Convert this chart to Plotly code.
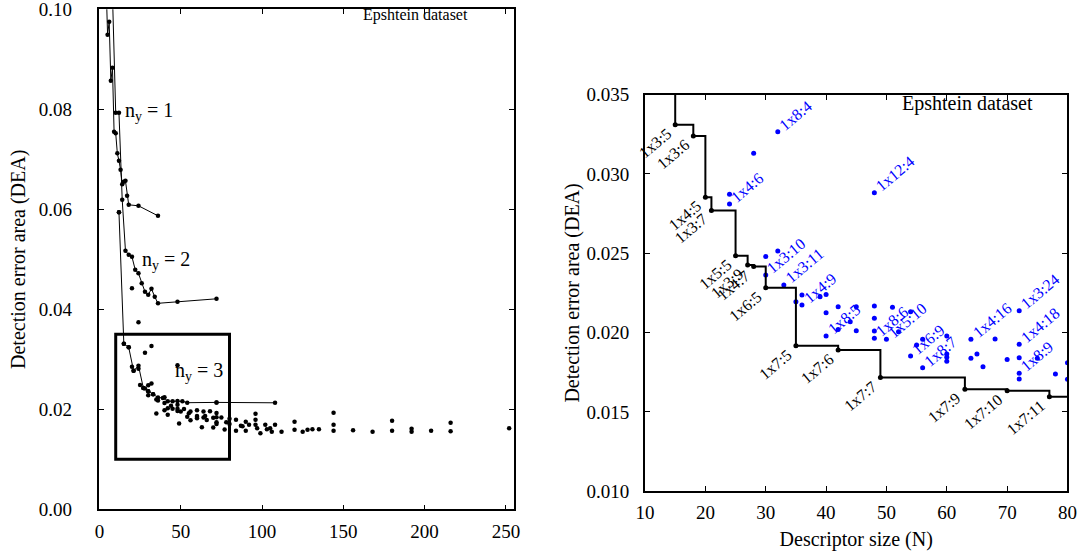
import plotly.graph_objects as go

# Detection error area (DEA) versus descriptor size N for the tested
# configurations (labels read n_x x n_y : bins, N = n_x * n_y * bins).

# n_y = 1 family
ny1_n = [4, 5, 6, 7, 8, 9, 10, 11, 12, 13, 14, 15, 16, 17, 18, 24, 36]
ny1_dea = [0.106, 0.0949, 0.0975, 0.0857, 0.0883, 0.0755, 0.0752, 0.0712, 0.0697,
           0.0679, 0.0650, 0.0655, 0.0657, 0.0627, 0.0609, 0.0607, 0.0587]

# n_y = 2 family
ny2_n = [8, 10, 12, 14, 16, 18, 20, 22, 24, 26, 28, 30, 32, 34, 36, 48, 72]
ny2_dea = [0.103, 0.0793, 0.0793, 0.0619, 0.0517, 0.0509, 0.0505, 0.0479, 0.0472,
           0.0452, 0.0435, 0.0429, 0.0441, 0.0425, 0.0412, 0.0415, 0.0421]

# n_y = 3 family
ny3_n = [12, 15, 18, 21, 24, 27, 30, 33, 36, 39, 42, 45, 48, 51, 54, 72, 108]
ny3_dea = [0.0594, 0.0331, 0.0324, 0.0277, 0.02872, 0.02426, 0.02363, 0.0230, 0.02237,
           0.02226, 0.02163, 0.02163, 0.02168, 0.0216, 0.02132, 0.02138, 0.0213]

# Pareto front (best DEA for a given size)
front_lbl = ["1x3:4", "1x3:5", "1x3:6", "1x4:5", "1x3:7", "1x5:5", "1x3:9", "1x4:7",
             "1x6:5", "1x7:5", "1x7:6", "1x7:7", "1x7:9", "1x7:10", "1x7:11", ""]
front_n = [12, 15, 18, 20, 21, 25, 27, 28, 30, 35, 42, 49, 63, 70, 77, 84]
front_dea = [0.0594, 0.0331, 0.0324, 0.02853, 0.0277, 0.02485, 0.02426, 0.02416,
             0.02283, 0.01917, 0.0189, 0.01716, 0.01643, 0.01634, 0.01596, 0.0157]

# other named configurations
named_lbl = ["1x8:4", "1x4:6", "1x12:4", "1x3:10", "1x3:11", "1x4:9", "1x8:5", "1x8:6",
             "1x5:10", "1x6:9", "1x8:7", "1x4:16", "1x3:24", "1x4:18", "1x8:9"]
named_n = [32, 24, 48, 30, 33, 36, 40, 48, 50, 54, 56, 64, 72, 72, 72]
named_dea = [0.03267, 0.0281, 0.02882, 0.02363, 0.0230, 0.02174, 0.01979, 0.01964,
             0.01958, 0.01853, 0.01779, 0.01958, 0.02138, 0.01926, 0.01743]

# remaining configurations
other_n = [20, 24, 28, 30, 32, 35, 40, 40, 42, 44, 45, 48, 48, 52, 55, 56, 60, 60, 60,
           60, 64, 65, 66, 68, 70, 72, 72, 75, 78, 80, 80,
           84, 87, 88, 90, 90, 92, 96, 96, 96, 97, 99, 102, 103, 105, 106, 108, 112,
           120, 120, 125, 128, 131, 135, 144, 144, 144, 156, 168, 180, 180, 192, 192,
           204, 216, 216, 252]
other_dea = [0.0442, 0.0374, 0.0313, 0.0248, 0.02515, 0.02195, 0.0224, 0.02125, 0.0202,
             0.02069, 0.02012, 0.0209, 0.0201, 0.02006, 0.01922, 0.01958, 0.01979,
             0.01865, 0.01844, 0.01819, 0.01838, 0.01865, 0.01785, 0.0196, 0.01831,
             0.01842, 0.01707, 0.01838, 0.01739, 0.0181, 0.01706,
             0.0179, 0.0167, 0.0166, 0.0175, 0.0157, 0.0169, 0.0191, 0.0179, 0.0169,
             0.0162, 0.0152, 0.0169, 0.0160, 0.0162, 0.0155, 0.0169, 0.0155, 0.0175,
             0.0159, 0.0155, 0.0159, 0.0160, 0.0160, 0.0193, 0.0169, 0.0157, 0.0158,
             0.0155, 0.0177, 0.0157, 0.0161, 0.0155, 0.0157, 0.0173, 0.0156, 0.0162]

left_xticks = [0, 50, 100, 150, 200, 250]
left_yticks = [0.00, 0.02, 0.04, 0.06, 0.08, 0.10]
right_xticks = [10, 20, 30, 40, 50, 60, 70, 80]
right_yticks = [0.010, 0.015, 0.020, 0.025, 0.030, 0.035]

FONT = "Liberation Serif"
BLUE = "#0000ff"

all_n = ny1_n + ny2_n + ny3_n + front_n + named_n + other_n
all_dea = ny1_dea + ny2_dea + ny3_dea + front_dea + named_dea + other_dea
front_set = set(zip(front_n, front_dea))
blue_pts = sorted({p for p in zip(all_n, all_dea) if p not in front_set})

fig = go.Figure()

# ---- left panel: all configurations
for xs, ys in [(ny1_n, ny1_dea), (ny2_n, ny2_dea), (ny3_n, ny3_dea)]:
    fig.add_trace(go.Scatter(x=xs, y=ys, mode="lines", line=dict(color="black", width=1),
                             xaxis="x", yaxis="y", hoverinfo="skip"))
fig.add_trace(go.Scatter(x=all_n, y=all_dea, mode="markers",
                         marker=dict(color="black", size=4.5), xaxis="x", yaxis="y"))

# ---- right panel: close-up with Pareto front
fig.add_trace(go.Scatter(x=[p[0] for p in blue_pts], y=[p[1] for p in blue_pts],
                         mode="markers", marker=dict(color=BLUE, size=5),
                         xaxis="x2", yaxis="y2"))
fig.add_trace(go.Scatter(x=front_n, y=front_dea, mode="lines+markers",
                         line=dict(color="black", width=2, shape="hv"),
                         marker=dict(color="black", size=5), xaxis="x2", yaxis="y2"))

LBL = 16
ANG = -40
ann = []
for lbl, xv, yv in zip(front_lbl, front_n, front_dea):
    if lbl and 10 <= xv <= 80 and 0.010 <= yv <= 0.035:
        ann.append(dict(x=xv, y=yv, xref="x2", yref="y2", text=lbl, showarrow=False,
                        textangle=ANG, xanchor="right", yanchor="top", xshift=0,
                        yshift=1, borderpad=0,
                        font=dict(family=FONT, size=LBL, color="black")))
for lbl, xv, yv in zip(named_lbl, named_n, named_dea):
    ann.append(dict(x=xv, y=yv, xref="x2", yref="y2", text=lbl, showarrow=False,
                    textangle=ANG, xanchor="left", yanchor="bottom", xshift=-3,
                    yshift=-3, borderpad=0,
                    font=dict(family=FONT, size=LBL, color=BLUE)))

ann += [
    dict(x=0.894, y=0.989, xref="x domain", yref="y domain", text="Epshtein dataset",
         showarrow=False, xanchor="right", yanchor="middle",
         font=dict(family=FONT, size=16, color="black")),
    dict(x=0.923, y=0.979, xref="x2 domain", yref="y2 domain", text="Epshtein dataset",
         showarrow=False, xanchor="right", yanchor="middle",
         font=dict(family=FONT, size=20, color="black")),
    dict(x=14.5, y=0.0795, xref="x", yref="y", text="n<sub>y</sub> = 1", showarrow=False,
         xanchor="left", yanchor="middle", font=dict(family=FONT, size=20, color="black")),
    dict(x=25, y=0.0497, xref="x", yref="y", text="n<sub>y</sub> = 2", showarrow=False,
         xanchor="left", yanchor="middle", font=dict(family=FONT, size=20, color="black")),
    dict(x=45, y=0.0275, xref="x", yref="y", text="n<sub>y</sub> = 3", showarrow=False,
         xanchor="left", yanchor="middle", font=dict(family=FONT, size=20, color="black")),
]

axis_common = dict(showline=True, linecolor="black", mirror="ticks", ticks="inside",
                   ticklen=5, tickcolor="black", showgrid=False, zeroline=False,
                   automargin=False, ticklabeloverflow="allow",
                   tickfont=dict(family=FONT, size=19, color="black"))

fig.update_layout(
    width=1081, height=554, margin=dict(l=0, r=0, t=0, b=0),
    paper_bgcolor="white", plot_bgcolor="white", showlegend=False,
    font=dict(family=FONT, color="black"),
    xaxis=dict(domain=[0.0920, 0.4755], range=[0, 255], tickvals=left_xticks,
               linewidth=1.5, anchor="y", ticklabelstandoff=4, **axis_common),
    yaxis=dict(domain=[0.0807, 0.9832], range=[0, 0.10], tickvals=left_yticks,
               tickformat=".2f", linewidth=1.5, anchor="x", ticklabelstandoff=22,
               title=dict(text="Detection error area (DEA)", standoff=8,
                          font=dict(family=FONT, size=20)), **axis_common),
    xaxis2=dict(domain=[0.5967, 0.9875], range=[10, 80], tickvals=right_xticks,
                linewidth=2, anchor="y2", ticklabelstandoff=3,
                title=dict(text="Descriptor size (N)", standoff=10,
                           font=dict(family=FONT, size=20)), **axis_common),
    yaxis2=dict(domain=[0.1134, 0.8291], range=[0.010, 0.035], tickvals=right_yticks,
                tickformat=".3f", linewidth=2, anchor="x2", ticklabelstandoff=10,
                title=dict(text="Detection error area (DEA)", standoff=1,
                           font=dict(family=FONT, size=20)), **axis_common),
    annotations=ann,
    shapes=[dict(type="rect", xref="x", yref="y", x0=10, x1=80, y0=0.010, y1=0.035,
                 line=dict(color="black", width=3))],
)

fig.write_html("out.html")
